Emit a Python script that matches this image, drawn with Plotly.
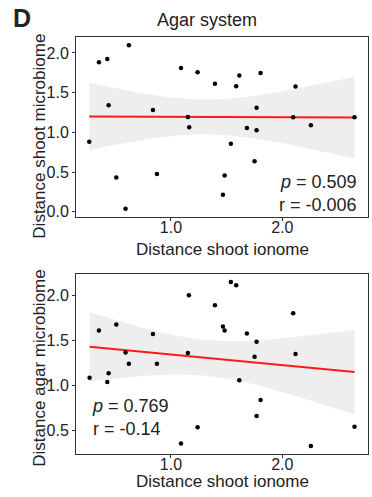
import numpy as np
import plotly.graph_objects as go

# ---- data ----
shoot_ionome = [0.266, 0.353, 0.428, 0.440, 0.509, 0.592, 0.622, 0.838, 0.874, 1.090,
                1.152, 1.164, 1.239, 1.395, 1.467, 1.482, 1.538, 1.586, 1.614, 1.682,
                1.751, 1.769, 1.769, 1.805, 2.098, 2.119, 2.257, 2.649]
shoot_microbiome = [0.881, 1.883, 1.925, 1.340, 0.430, 0.038, 2.096, 1.282, 0.476, 1.812,
                    1.194, 1.065, 1.758, 1.612, 0.213, 0.455, 0.856, 1.582, 1.716, 1.056,
                    0.635, 1.311, 1.027, 1.749, 1.190, 1.578, 1.090, 1.190]
shoot_ionome_b = [0.269, 0.353, 0.428, 0.440, 0.509, 0.592, 0.622, 0.838, 0.874, 1.090,
                  1.152, 1.161, 1.239, 1.395, 1.467, 1.482, 1.538, 1.586, 1.614, 1.682,
                  1.751, 1.769, 1.769, 1.805, 2.098, 2.119, 2.257, 2.649]
agar_microbiome = [1.084, 1.608, 1.036, 1.132, 1.675, 1.365, 1.239, 1.568, 1.239, 0.352,
                   1.357, 2.000, 0.533, 1.889, 1.653, 1.608, 2.148, 2.111, 1.055, 1.575,
                   1.317, 1.483, 0.659, 0.836, 1.800, 1.346, 0.323, 0.537]

stats_top = ["0.509", "-0.006"]
stats_bot = ["0.769", "-0.14"]

W, H = 372, 497
def px(x): return x / W
def py(y): return 1 - y / H

FONT = "Liberation Sans, Arial, Helvetica, sans-serif"
T975 = 2.0555  # t quantile, df = 26

def fit(x, y):
    x = np.asarray(x); y = np.asarray(y)
    n = len(x)
    b1, b0 = np.polyfit(x, y, 1)
    res = y - (b0 + b1 * x)
    s = np.sqrt((res ** 2).sum() / (n - 2))
    xm = x.mean(); sxx = ((x - xm) ** 2).sum()
    xs = np.linspace(x.min(), x.max(), 80)
    yh = b0 + b1 * xs
    se = s * np.sqrt(1 / n + (xs - xm) ** 2 / sxx)
    return xs, yh, yh - T975 * se, yh + T975 * se

fig = go.Figure()

def add_panel(x, y, xa, ya):
    xs, yh, lo, hi = fit(x, y)
    fig.add_trace(go.Scatter(x=np.concatenate([xs, xs[::-1]]), y=np.concatenate([hi, lo[::-1]]),
                             fill="toself", fillcolor="#EEEEEE", line=dict(width=0),
                             mode="lines", hoverinfo="skip", xaxis=xa, yaxis=ya))
    fig.add_trace(go.Scatter(x=xs, y=yh, mode="lines", line=dict(color="#FF1A1A", width=2),
                             xaxis=xa, yaxis=ya))
    fig.add_trace(go.Scatter(x=x, y=y, mode="markers", marker=dict(color="black", size=4.5),
                             xaxis=xa, yaxis=ya))

add_panel(shoot_ionome, shoot_microbiome, "x", "y")
add_panel(shoot_ionome_b, agar_microbiome, "x2", "y2")

axis_common = dict(showgrid=False, zeroline=False, showline=True, mirror=True,
                   linecolor="#333333", linewidth=1, ticks="outside", ticklen=3,
                   tickcolor="#333333", tickfont=dict(family=FONT, size=16, color="#222222"))

xd = [px(76), px(368)]
fig.update_layout(
    width=W, height=H, margin=dict(l=0, r=0, t=0, b=0),
    paper_bgcolor="white", plot_bgcolor="white", showlegend=False,
    xaxis=dict(domain=xd, range=[0.147, 2.77], tickvals=[1.0, 2.0], ticktext=["1.0", "2.0"],
               anchor="y", ticklabelstandoff=-7, **axis_common),
    yaxis=dict(domain=[py(218.3), py(37.7)], range=[-0.066, 2.195],
               tickvals=[0, 0.5, 1.0, 1.5, 2.0], ticktext=["0.0", "0.5", "1.0", "1.5", "2.0"],
               anchor="x", **axis_common),
    xaxis2=dict(domain=xd, range=[0.147, 2.77], tickvals=[1.0, 2.0], ticktext=["1.0", "2.0"],
                anchor="y2", ticklabelstandoff=-7, **axis_common),
    yaxis2=dict(domain=[py(456.5), py(275.7)], range=[0.238, 2.236],
                tickvals=[0.5, 1.0, 1.5, 2.0], ticktext=["0.5", "1.0", "1.5", "2.0"],
                anchor="x2", **axis_common),
)

def ann(text, x, y, size=17, xanchor="center", yanchor="middle", angle=0, align="center"):
    fig.add_annotation(text=text, x=px(x), y=py(y), xref="paper", yref="paper",
                       xanchor=xanchor, yanchor=yanchor, textangle=angle, showarrow=False,
                       align=align,
                       font=dict(family=FONT, size=size, color="#222222"))

ann("<b>D</b>", 11, 18, size=25, xanchor="left")
ann("Agar system", 207, 20, size=18)
ann("Distance shoot microbiome", 40, 137.5, size=17, angle=-90)
ann("Distance agar microbiome", 40, 371, size=17, angle=-90)
ann("Distance shoot ionome", 222, 251, size=17)
ann("Distance shoot ionome", 222, 484.5, size=17)
ann(f"<i>p</i> = {stats_top[0]}<br>r = {stats_top[1]}", 359, 195, size=18,
    xanchor="right", align="right")
ann(f"<i>p</i> = {stats_bot[0]}<br>r = {stats_bot[1]}", 90, 420, size=18,
    xanchor="left", align="left")

fig.write_html("out.html", config={"displayModeBar": False},
               post_script="document.body.style.margin='0';document.body.style.overflow='hidden';")
